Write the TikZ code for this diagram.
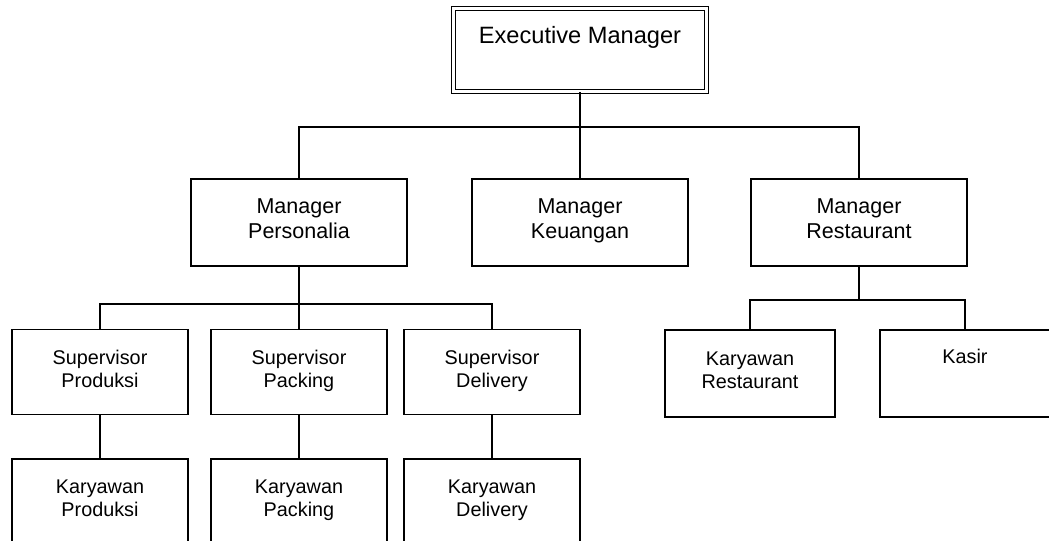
\documentclass[tikz,border=0pt]{standalone}
\usepackage{fontspec}
\setmainfont{Liberation Sans}
\usepackage{tikz}
\usetikzlibrary{shapes,arrows}
\usetikzlibrary{positioning}
\tikzstyle{box} = [rectangle, draw=black, line width=1pt, align=center, inner sep=0pt,
execute at begin node=\strut, execute at end node=\strut]
\tikzstyle{top} = [box, line width=0.8pt, double, double distance=2.6pt, minimum width=6.325cm,
minimum height = 2.075cm, font=\fontsize{16.8}{20}\selectfont, text height=0.45cm, text depth=0.775cm]
\tikzstyle{mgr} = [box, minimum width=5.4cm, minimum height = 2.175cm, font=\fontsize{15.3}{18.4}\selectfont]
\tikzstyle{staff} = [box, minimum width=4.4cm, minimum height = 2.125cm, font=\fontsize{14.1}{16}\selectfont]
\tikzstyle{line} = [draw, line width=0.8pt]

\begin{document}
\begin{tikzpicture}[auto]
	\useasboundingbox (0,0) rectangle (26.225,13.5);
	\node [top] (exec) at (14.5,12.25) {Executive Manager};
	\node [mgr] (per) at (7.475,7.9375) {Manager\\Personalia};
	\node [mgr] (keu) at (14.5,7.9375) {Manager\\Keuangan};
	\node [mgr] (res) at (21.475,7.9375) {Manager\\Restaurant};
	\node [staff] (spr) at (2.5,4.2) {Supervisor\\Produksi};
	\node [staff] (spk) at (7.475,4.2) {Supervisor\\Packing};
	\node [staff] (spd) at (12.3,4.2) {Supervisor\\Delivery};
	\node [staff, below=1.075cm of spr] (kpr) {Karyawan\\Produksi};
	\node [staff, below=1.075cm of spk] (kpk) {Karyawan\\Packing};
	\node [staff, below=1.075cm of spd] (kpd) {Karyawan\\Delivery};
	\node [staff, minimum width=4.25cm, minimum height=2.175cm] (kres) at (18.75,4.1625) {Karyawan\\Restaurant};
	\node [staff, minimum width=4.25cm, minimum height=2.175cm, text height=0.35cm, text depth=0.825cm] (ksr) at (24.125,4.1625) {Kasir};
	\coordinate (bus1) at (14.5,10.325);
	\coordinate (bus2) at (7.475,5.9);
	\coordinate (bus3) at (21.475,6.0);
	%% Lines
	\path [line] (exec) -- (bus1);
	\path [line] (bus1) -| (per);
	\path [line] (bus1) -- (keu);
	\path [line] (bus1) -| (res);
	\path [line] (per) -- (bus2);
	\path [line] (bus2) -| (spr);
	\path [line] (bus2) -- (spk);
	\path [line] (bus2) -| (spd);
	\path [line] (spr) -- (kpr);
	\path [line] (spk) -- (kpk);
	\path [line] (spd) -- (kpd);
	\path [line] (res) -- (bus3);
	\path [line] (bus3) -| (kres);
	\path [line] (bus3) -| (ksr);
\end{tikzpicture}
\end{document}
